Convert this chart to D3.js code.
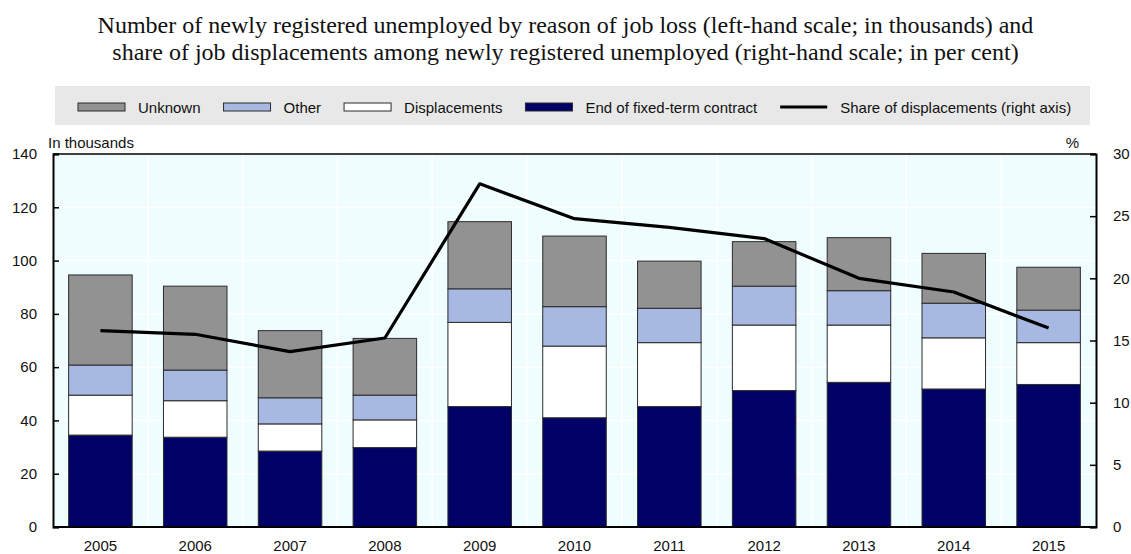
<!DOCTYPE html>
<html>
<head>
<meta charset="utf-8">
<script src="https://cdn.jsdelivr.net/npm/d3@7"></script>
<style>
  body { margin: 0; background: #fff; }
  .sans { font-family: "Liberation Sans", Arial, sans-serif; }
</style>
</head>
<body>
<div id="chart"></div>
<script>
// values (thousands, and per cent for the line)
const years = ["2005", "2006", "2007", "2008", "2009", "2010", "2011", "2012", "2013", "2014", "2015"];
const fixedTerm = [34.5, 33.7, 28.5, 29.8, 45.2, 41.0, 45.2, 51.2, 54.3, 51.8, 53.5];
const displacements = [15.0, 13.7, 10.2, 10.4, 31.6, 26.9, 24.0, 24.6, 21.5, 19.2, 15.7];
const other = [11.3, 11.5, 9.8, 9.3, 12.6, 14.8, 12.9, 14.6, 12.9, 13.0, 12.2];
const unknown = [33.8, 31.5, 25.2, 21.3, 25.2, 26.5, 17.7, 16.7, 19.9, 18.7, 16.1];
const shareDisplaced = [15.8, 15.5, 14.1, 15.2, 27.6, 24.8, 24.1, 23.2, 20.0, 18.9, 16.0];

const leftTicks = [0, 20, 40, 60, 80, 100, 120, 140];
const rightTicks = [0, 5, 10, 15, 20, 25, 30];

const titleLines = [
  "Number of newly registered unemployed by reason of job loss (left-hand scale; in thousands) and",
  "share of job displacements among newly registered unemployed (right-hand scale; in per cent)"
];

const series = [
  { key: "fixedTerm", label: "End of fixed-term contract", color: "#000066", values: fixedTerm },
  { key: "displacements", label: "Displacements", color: "#ffffff", values: displacements },
  { key: "other", label: "Other", color: "#a7b9e3", values: other },
  { key: "unknown", label: "Unknown", color: "#929292", values: unknown }
];

const W = 1131, H = 554;
const plot = { left: 53, right: 1096, top: 154, bottom: 527 };
const fontSize = "15px";

const svg = d3.select("#chart").append("svg")
  .attr("width", W)
  .attr("height", H);

// title
svg.append("g").selectAll("text")
  .data(titleLines)
  .enter()
  .append("text")
  .attr("x", W / 2)
  .attr("y", (d, i) => 33 + i * 27)
  .attr("text-anchor", "middle")
  .style("font-family", "'Liberation Serif', 'Times New Roman', serif")
  .style("font-size", "24px")
  .attr("fill", "#111")
  .text(d => d);

const rows = years.map((y, i) => {
  const r = { year: y };
  series.forEach(s => { r[s.key] = s.values[i]; });
  return r;
});

const stacked = d3.stack().keys(series.map(s => s.key))(rows);

const x = d3.scaleBand()
  .domain(years)
  .range([plot.left, plot.right])
  .paddingInner(0.33)
  .paddingOuter(0.165);

const y = d3.scaleLinear().domain([0, 140]).range([plot.bottom, plot.top]);
const y2 = d3.scaleLinear().domain([0, 30]).range([plot.bottom, plot.top]);

// plot background + white grid
svg.append("rect")
  .attr("x", plot.left)
  .attr("y", plot.top)
  .attr("width", plot.right - plot.left)
  .attr("height", plot.bottom - plot.top)
  .attr("fill", "#f0fdff");

const grid = svg.append("g");
grid.selectAll("line.h")
  .data(leftTicks.slice(1, -1))
  .enter()
  .append("line")
  .attr("x1", plot.left)
  .attr("x2", plot.right)
  .attr("y1", d => y(d))
  .attr("y2", d => y(d))
  .attr("stroke", "#fff")
  .attr("stroke-width", 1.5);

grid.selectAll("line.v")
  .data(years.slice(1))
  .enter()
  .append("line")
  .attr("x1", d => x(d) - x.step() * x.paddingInner() / 2)
  .attr("x2", d => x(d) - x.step() * x.paddingInner() / 2)
  .attr("y1", plot.top)
  .attr("y2", plot.bottom)
  .attr("stroke", "#fff")
  .attr("stroke-width", 1.5);

// stacked bars
const colorOf = d3.scaleOrdinal()
  .domain(series.map(s => s.key))
  .range(series.map(s => s.color));

svg.append("g")
  .selectAll("g")
  .data(stacked)
  .enter()
  .append("g")
  .attr("fill", d => colorOf(d.key))
  .selectAll("rect")
  .data(d => d)
  .enter()
  .append("rect")
  .attr("x", d => x(d.data.year))
  .attr("width", x.bandwidth())
  .attr("y", d => y(d[1]))
  .attr("height", d => y(d[0]) - y(d[1]))
  .attr("stroke", "#2b2b2b")
  .attr("stroke-width", 1);

// share line on the right scale
const line = d3.line()
  .x((d, i) => x(years[i]) + x.bandwidth() / 2)
  .y(d => y2(d));

svg.append("path")
  .datum(shareDisplaced)
  .attr("d", line)
  .attr("fill", "none")
  .attr("stroke", "#000")
  .attr("stroke-width", 3.2)
  .attr("stroke-linejoin", "round");

// frame: top border + axes
svg.append("line")
  .attr("x1", plot.left).attr("x2", plot.right)
  .attr("y1", plot.top).attr("y2", plot.top)
  .attr("stroke", "#000").attr("stroke-width", 1.5);

const leftAxis = svg.append("g")
  .attr("class", "sans")
  .attr("transform", `translate(${plot.left},0)`)
  .call(d3.axisLeft(y).tickValues(leftTicks).tickSize(-6).tickPadding(16));

const rightAxis = svg.append("g")
  .attr("class", "sans")
  .attr("transform", `translate(${plot.right},0)`)
  .call(d3.axisRight(y2).tickValues(rightTicks).tickSize(-6).tickPadding(17));

const bottomAxis = svg.append("g")
  .attr("class", "sans")
  .attr("transform", `translate(0,${plot.bottom})`)
  .call(d3.axisBottom(x).tickSize(0).tickPadding(13.5));

[leftAxis, rightAxis, bottomAxis].forEach(a => {
  a.selectAll(".domain").attr("stroke", "#000").attr("stroke-width", 2);
  a.selectAll(".tick line").attr("stroke", "#000").attr("stroke-width", 1.5);
  a.selectAll("text").attr("fill", "#111").style("font-size", fontSize).style("font-family", null);
});
bottomAxis.selectAll(".domain").attr("d", `M${plot.left},0H${plot.right}`);

svg.append("text")
  .attr("class", "sans")
  .attr("x", 48)
  .attr("y", 148)
  .style("font-size", fontSize)
  .attr("fill", "#111")
  .text("In thousands");

svg.append("text")
  .attr("class", "sans")
  .attr("x", 1079)
  .attr("y", 148)
  .attr("text-anchor", "end")
  .style("font-size", fontSize)
  .attr("fill", "#111")
  .text("%");

// legend
const legendItems = series.slice().reverse().map(s => ({ label: s.label, color: s.color, kind: "box" }));
legendItems.push({ label: "Share of displacements (right axis)", kind: "line" });

const legend = svg.append("g").attr("class", "sans");
legend.append("rect")
  .attr("x", 55)
  .attr("y", 86)
  .attr("width", 1035)
  .attr("height", 39)
  .attr("fill", "#e8e8e8");

let lx = 78;
const ly = 107;
legendItems.forEach(item => {
  if (item.kind === "box") {
    legend.append("rect")
      .attr("x", lx)
      .attr("y", ly - 4)
      .attr("width", 47)
      .attr("height", 8)
      .attr("fill", item.color)
      .attr("stroke", "#2b2b2b")
      .attr("stroke-width", 1);
  } else {
    legend.append("line")
      .attr("x1", lx)
      .attr("x2", lx + 47)
      .attr("y1", ly)
      .attr("y2", ly)
      .attr("stroke", "#000")
      .attr("stroke-width", 3);
  }
  const t = legend.append("text")
    .attr("x", lx + 60)
    .attr("y", ly + 5.5)
    .style("font-size", fontSize)
    .attr("fill", "#111")
    .text(item.label);
  lx += 60 + t.node().getComputedTextLength() + 23;
});
</script>
</body>
</html>
